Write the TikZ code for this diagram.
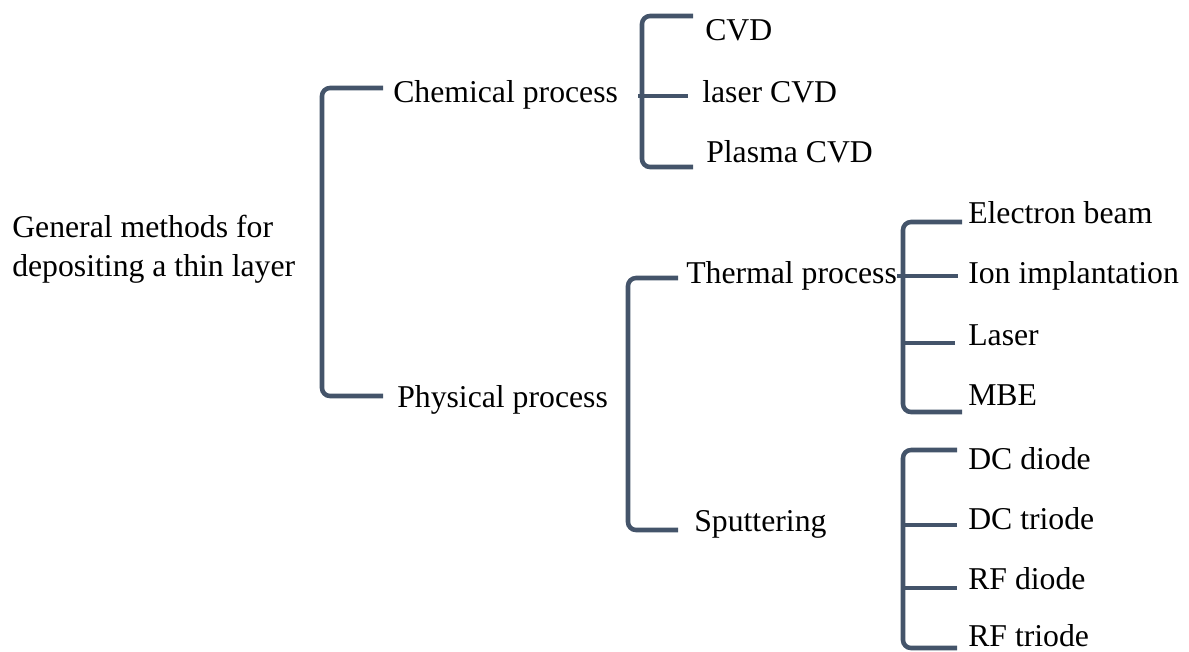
\documentclass[tikz,border=0pt]{standalone}
\usepackage{fontspec}
\setmainfont{Liberation Serif}
\newfontfamily\diagfont{Liberation Serif}
\usetikzlibrary{positioning}

\definecolor{brkcol}{RGB}{68,84,106}
\tikzset{
  lbl/.style={anchor=base west, inner sep=0pt, text height=20pt, text depth=5pt,
    font=\diagfont\fontsize{23.8}{29}\selectfont},
  brk/.style={draw=brkcol, line width=3.4pt, rounded corners=6pt},
}

\begin{document}
\begin{tikzpicture}[x=0.75pt,y=0.75pt,yscale=-1,xscale=1]
\useasboundingbox (0,0) rectangle (1189,651);
\clip (0,0) rectangle (1189,651);

%Text: root
\node [anchor=west, inner sep=0pt, align=left, font=\diagfont\fontsize{23.8}{29.25}\selectfont] (gen) at (12,249) {General methods for\\depositing a thin layer};
%Text: first level
\node [lbl] (chem) at (393,102) {Chemical process};
\node [lbl] (phys) at (397,407) {Physical process};
%Text: chemical
\node [lbl] (cvd) at (705,40) {CVD};
\node [lbl] (lcvd) at (702,102) {laser CVD};
\node [lbl] (pcvd) at (706,162) {Plasma CVD};
%Text: physical
\node [lbl] (therm) at (686,283) {Thermal process};
\node [lbl] (sput) at (694,531) {Sputtering};
%Text: thermal
\node [lbl] (ebeam) at (968,223) {Electron beam};
\node [lbl] (ion) at (968,283) {Ion implantation};
\node [lbl] (laser) at (968,345) {Laser};
\node [lbl] (mbe) at (968,405) {MBE};
%Text: sputtering
\node [lbl] (dcd) at (968,469) {DC diode};
\node [lbl] (dct) at (968,529) {DC triode};
\node [lbl] (rfd) at (968,589) {RF diode};
\node [lbl] (rft) at (968,646) {RF triode};

%Shape: Bracket root
\draw [brk] ([shift={(-10,-4)}]chem.west) -- ++(-61,0) |- ([shift={(-14,-1)}]phys.west);
%Shape: Bracket chemical
\draw [brk] ([shift={(-12,-14)}]cvd.west) -- ++(-51,0) |- ([shift={(-13,15)}]pcvd.west);
%Straight Lines
\draw [brk] ([shift={(20,4)}]chem.east) -- ([shift={(-14,4)}]lcvd.west);
%Shape: Bracket physical
\draw [brk] ([shift={(-8,5)}]therm.west) -- ++(-50,0) |- ([shift={(-16,9)}]sput.west);
%Shape: Bracket thermal
\draw [brk] ([shift={(-6,9)}]ebeam.west) -- ++(-59,0) |- ([shift={(-6,17)}]mbe.west);
%Straight Lines
\draw [brk] ([shift={(0,3)}]therm.east) -- ([shift={(-10,3)}]ion.west);
\draw [brk] ([shift={(-13,8)}]laser.west) -- ++(-52,0);
%Shape: Bracket sputtering
\draw [brk] ([shift={(-11,-9)}]dcd.west) -- ++(-54,0) |- ([shift={(-11,12)}]rft.west);
%Straight Lines
\draw [brk] ([shift={(-11,6)}]dct.west) -- ++(-54,0);
\draw [brk] ([shift={(-11,9)}]rfd.west) -- ++(-54,0);

\end{tikzpicture}
\end{document}
